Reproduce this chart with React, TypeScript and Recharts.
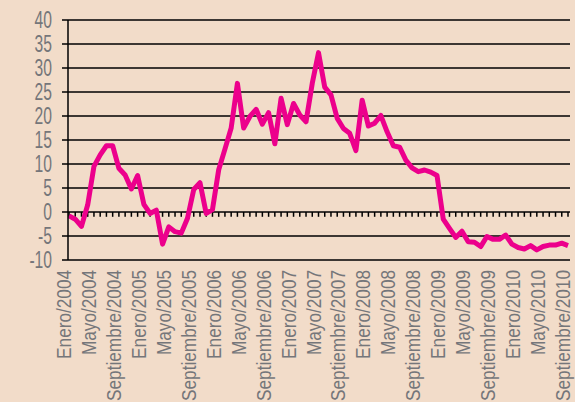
import { LineChart, Line, XAxis, YAxis, CartesianGrid, ReferenceLine } from 'recharts'

const monthNames = [
  'Enero', 'Febrero', 'Marzo', 'Abril', 'Mayo', 'Junio',
  'Julio', 'Agosto', 'Septiembre', 'Octubre', 'Noviembre', 'Diciembre',
]
const years = [2004, 2005, 2006, 2007, 2008, 2009, 2010]

// monthly values, Enero/2004 .. Septiembre/2010
const values = [
  -0.8, -1.5, -3.0, 1.5, 9.5, 11.9, 13.8, 13.8, 9.1, 7.7, 4.8, 7.6,
  1.6, -0.3, 0.4, -6.7, -3.1, -4.1, -4.4, -1.3, 4.7, 6.1, -0.3, 0.5,
  8.8, 13.1, 17.5, 26.8, 17.5, 19.9, 21.4, 18.3, 20.7, 14.2, 23.7, 18.2,
  22.6, 20.2, 18.8, 26.8, 33.2, 26.0, 24.4, 19.5, 17.4, 16.4, 12.8, 23.3,
  17.9, 18.5, 20.1, 16.7, 13.8, 13.5, 10.8, 9.2, 8.4, 8.75, 8.3, 7.6,
  -1.5, -3.4, -5.3, -4.0, -6.2, -6.3, -7.2, -5.1, -5.7, -5.7, -4.8, -6.7,
  -7.4, -7.7, -7.0, -7.9, -7.2, -6.9, -6.9, -6.5, -7.0,
]

const yTicks = [-10, -5, 0, 5, 10, 15, 20, 25, 30, 35, 40]

const categories = years
  .flatMap((y) => monthNames.map((m) => `${m}/${y}`))
  .slice(0, values.length)

const data = categories.map((label, i) => ({ label, value: values[i] }))

const FONT = "'Liberation Sans', Arial, sans-serif"
const GRAY = '#75767a'

// condensed look: squeeze the text along its reading direction
const XTick = ({ x, y, payload }: any) => (
  <g transform={`translate(${x},${y})`}>
    <text
      transform="rotate(-90) scale(0.86,1)"
      textAnchor="end"
      dy="0.1em"
      fill={GRAY}
      fontSize={20}
      fontFamily={FONT}
    >
      {payload.value}
    </text>
  </g>
)

const YTick = ({ x, y, payload }: any) => (
  <g transform={`translate(${x},${y})`}>
    <text
      transform="scale(0.68,1)"
      textAnchor="end"
      dy="0.36em"
      fill={GRAY}
      fontSize={23}
      fontFamily={FONT}
    >
      {payload.value}
    </text>
  </g>
)

export default function App() {
  return (
    <div style={{ position: 'absolute', left: 0, top: 0, width: 575, height: 402, background: '#F2DCC9' }}>
      <LineChart width={575} height={402} data={data} margin={{ top: 20, right: 5, left: 0, bottom: 0 }}>
        <CartesianGrid vertical={false} stroke="#000" strokeWidth={1.5} />
        <XAxis
          dataKey="label"
          interval={3}
          axisLine={false}
          tickLine={false}
          tickSize={0}
          tickMargin={10}
          height={142}
          padding={{ left: 1, right: 2 }}
          tick={<XTick />}
        />
        <YAxis
          domain={[-10, 40]}
          ticks={yTicks}
          interval={0}
          width={68}
          axisLine={{ stroke: '#000', strokeWidth: 1.5 }}
          tickLine={{ stroke: '#000', strokeWidth: 1.5 }}
          tickSize={6}
          tickMargin={10}
          tick={<YTick />}
        />
        {categories.map((c) => (
          <ReferenceLine
            key={c}
            segment={[{ x: c, y: 0 }, { x: c, y: -1 }]}
            stroke="#000"
            strokeWidth={1.5}
          />
        ))}
        <Line
          type="linear"
          dataKey="value"
          stroke="#EC008C"
          strokeWidth={5}
          strokeLinejoin="round"
          dot={false}
          isAnimationActive={false}
        />
      </LineChart>
    </div>
  )
}
